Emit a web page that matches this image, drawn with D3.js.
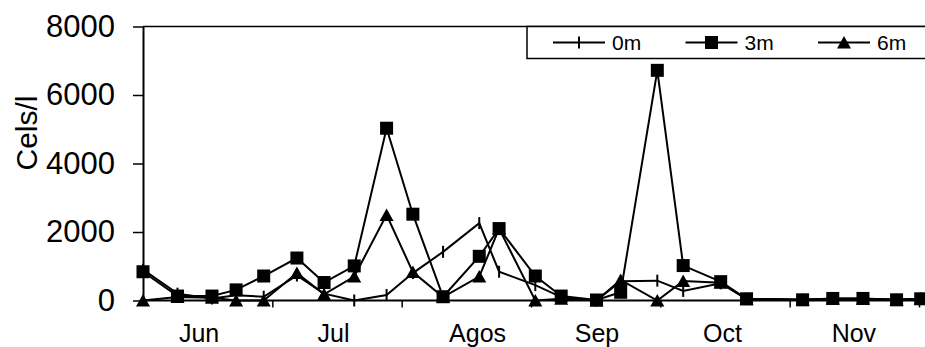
<!DOCTYPE html>
<html>
<head>
<meta charset="utf-8">
<script src="https://cdn.jsdelivr.net/npm/d3@7"></script>
<style>
  html, body { margin: 0; padding: 0; background: #fff; }
  svg { display: block; font-family: "Liberation Sans", Arial, sans-serif; }
</style>
</head>
<body>
<svg id="chart" width="925" height="347"></svg>
<script>
// Sampling days counted from 1 June
const days = [0, 8, 16, 21.6, 28, 35.7, 42, 49, 56.5, 62.6, 69.6, 78, 82.6, 91, 97, 105.2, 110.8, 119.3, 125.3, 134, 140, 153, 160, 167, 174.8, 180.4];

// Cell counts (cels/l) at each depth
const cells0m = [900, 200, 60, 150, 110, 730, 200, 0, 160, 800, 1420, 2260, 840, 450, 100, 0, 560, 580, 280, 500, 50, 20, 50, 50, 20, 50];
const cells3m = [840, 130, 130, 310, 715, 1240, 525, 1010, 5030, 2520, 110, 1290, 2100, 715, 130, 15, 240, 6720, 1020, 550, 50, 20, 60, 60, 20, 50];
const cells6m = [0, 100, 80, 0, 0, 800, 180, 700, 2500, 830, 100, 700, 2100, 0, 50, 0, 600, 0, 570, 520, 40, 20, 50, 50, 20, 50];

const seriesNames = ["0m", "3m", "6m"];
const yTicks = [0, 2000, 4000, 6000, 8000];
const monthTickDays = [30, 60, 90, 120, 150, 180];
const monthNames = ["Jun", "Jul", "Agos", "Sep", "Oct", "Nov"];
const monthLabelDays = [13, 44.2, 77.6, 105.3, 134.4, 164.9];

const W = 925, H = 347;
const plotLeft = 143, plotRight = 919, plotTop = 26.5, plotBottom = 300.5;

const svg = d3.select("#chart");
const x = d3.scaleLinear().domain([0, 180]).range([plotLeft, plotRight]);
const y = d3.scaleLinear().domain([0, 8000]).range([plotBottom, plotTop]);

// top frame line
svg.append("line")
  .attr("x1", plotLeft).attr("x2", W + 5)
  .attr("y1", plotTop).attr("y2", plotTop)
  .attr("stroke", "#000").attr("stroke-width", 1.5);

// y axis
const yAxis = svg.append("g")
  .attr("transform", `translate(${plotLeft},0)`)
  .call(d3.axisLeft(y).tickValues(yTicks).tickSize(10).tickSizeOuter(0).tickPadding(18).tickFormat(d3.format("d")));
yAxis.select(".domain").attr("stroke-width", 2);
yAxis.selectAll(".tick line").attr("stroke-width", 1.5);
yAxis.selectAll(".tick text").attr("font-size", 31).attr("fill", "#000")
  .attr("font-family", "Liberation Sans, Arial, sans-serif");

// x axis: ticks at month boundaries, baseline drawn to the edge
const xAxis = svg.append("g")
  .attr("transform", `translate(0,${plotBottom})`)
  .call(d3.axisBottom(x).tickValues(monthTickDays).tickSize(7).tickSizeOuter(0).tickFormat(""));
xAxis.select(".domain").remove();
xAxis.selectAll(".tick line").attr("stroke-width", 1.5);
svg.append("line")
  .attr("x1", plotLeft).attr("x2", W + 5)
  .attr("y1", plotBottom).attr("y2", plotBottom)
  .attr("stroke", "#000").attr("stroke-width", 2);

// month names
svg.append("g").selectAll("text")
  .data(monthNames)
  .join("text")
  .attr("x", (d, i) => x(monthLabelDays[i]))
  .attr("y", 342)
  .attr("text-anchor", "middle")
  .attr("font-size", 25)
  .text(d => d);

// y axis title
svg.append("text")
  .attr("transform", `translate(37,133) rotate(-90)`)
  .attr("text-anchor", "middle")
  .attr("font-size", 30)
  .text("Cels/l");

// marker shapes
function drawMarker(g, kind, cx, cy) {
  if (kind === "cross") {
    g.append("line").attr("x1", cx).attr("x2", cx).attr("y1", cy - 6).attr("y2", cy + 6)
      .attr("stroke", "#000").attr("stroke-width", 2);
  } else if (kind === "square") {
    g.append("rect").attr("x", cx - 6.5).attr("y", cy - 6.5).attr("width", 13).attr("height", 13)
      .attr("fill", "#000");
  } else {
    g.append("path").attr("d", `M${cx},${cy - 6.5}L${cx + 7},${cy + 6}L${cx - 7},${cy + 6}Z`)
      .attr("fill", "#000");
  }
}

const series = [
  { name: seriesNames[0], values: cells0m, marker: "cross" },
  { name: seriesNames[1], values: cells3m, marker: "square" },
  { name: seriesNames[2], values: cells6m, marker: "triangle" }
];

const line = d3.line().x(d => x(d[0])).y(d => y(d[1]));

// draw order: 0m, 6m, then 3m on top
[series[0], series[2], series[1]].forEach(s => {
  const pts = days.map((d, i) => [d, s.values[i]]);
  const g = svg.append("g");
  g.append("path").attr("d", line(pts)).attr("fill", "none")
    .attr("stroke", "#000").attr("stroke-width", 2).attr("stroke-linejoin", "miter");
  pts.forEach(p => drawMarker(g, s.marker, x(p[0]), y(p[1])));
});

// legend
const lg = svg.append("g");
lg.append("rect").attr("x", 527).attr("y", plotTop).attr("width", 420).attr("height", 32)
  .attr("fill", "#fff").attr("stroke", "#000").attr("stroke-width", 1.5);
series.forEach((s, i) => {
  const x0 = 553 + i * 132.5;
  const ly = 42.5;
  lg.append("line").attr("x1", x0).attr("x2", x0 + 52).attr("y1", ly).attr("y2", ly)
    .attr("stroke", "#000").attr("stroke-width", 2);
  drawMarker(lg, s.marker, x0 + 26, ly);
  lg.append("text").attr("x", x0 + 59).attr("y", ly + 7.5).attr("font-size", 21).text(s.name);
});
</script>
</body>
</html>
